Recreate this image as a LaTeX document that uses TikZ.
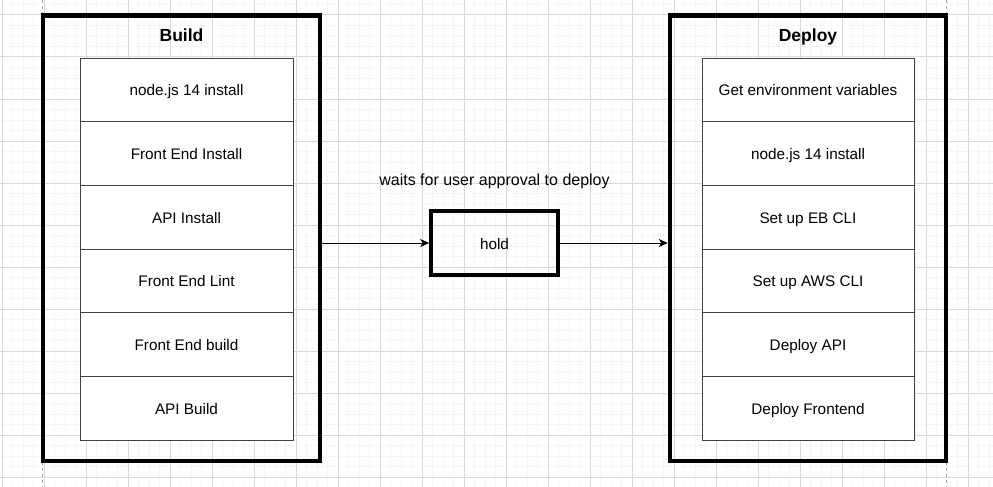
\documentclass[tikz,border=0pt]{standalone}
\usepackage{fontspec}
\setmainfont{Liberation Sans}
\usetikzlibrary{positioning}
\usetikzlibrary{arrows.meta}

\begin{document}
\begin{tikzpicture}[x=1pt,y=-1pt,
  stage/.style={draw,line width=4.5pt,minimum width=277pt,minimum height=445.3pt,inner sep=0pt},
  job/.style={draw=black!75,fill=white,line width=0.9pt,minimum width=213pt,minimum height=\hjob pt,inner sep=0pt,outer sep=0pt,text height=12pt,text depth=0pt,font=\fontsize{15.3}{17}\selectfont},
  holdbox/.style={draw,line width=3.5pt,minimum width=127pt,minimum height=64pt,inner sep=0pt,text height=12pt,text depth=0pt,font=\fontsize{15.3}{17}\selectfont},
  titre/.style={text height=12.5pt,text depth=3.5pt,font=\fontsize{17.5}{20}\selectfont\bfseries},
  fleche/.style={-{Stealth[length=9pt,width=8pt,inset=2.5pt]},line width=0.9pt}]
\def\xmax{993}
\def\ymax{487}
\def\hjob{63.67}

% Fond et grille
\fill[white] (0,0) rectangle (\xmax,\ymax);
\useasboundingbox (0,0) rectangle (\xmax,\ymax);
\foreach \x in {2,12.5,...,993}{
	\draw[line width=1pt,black!4] (\x,0) -- (\x,\ymax);
}
\foreach \y in {4.5,15,...,487}{
	\draw[line width=1pt,black!4] (0,\y) -- (\xmax,\y);
}
\foreach \x in {2,44,...,993}{
	\draw[line width=1pt,black!15] (\x,0) -- (\x,\ymax);
}
\foreach \y in {15,57,...,487}{
	\draw[line width=1pt,black!15] (0,\y) -- (\xmax,\y);
}
\draw[dashed,black!35,line width=0.8pt] (42,0) -- (42,\ymax);
\draw[dashed,black!35,line width=0.8pt] (946,0) -- (946,\ymax);

% Build
\node[stage] (build) at (181.5,238.4) {};
\node[titre] (tbuild) at (181.5,37) {Build};
\foreach \t [count=\i] in {node.js 14 install,Front End Install,API Install,Front End Lint,Front End build,API Build}{
	\node[job] (b\i) at (186.5,58+\hjob*\i-\hjob/2) {\t};
}

% Deploy
\node[stage,minimum width=276pt] (deploy) at (808,238.4) {};
\node[titre] (tdeploy) at (808,37) {Deploy};
\foreach \t [count=\i] in {Get environment variables,node.js 14 install,Set up EB CLI,Set up AWS CLI,Deploy API,Deploy Frontend}{
	\node[job,minimum width=212pt] (d\i) at (808,58+\hjob*\i-\hjob/2) {\t};
}

% Attente
\node[holdbox] (hold) at (494.5,243) {hold};
\node[font=\fontsize{16}{18}\selectfont,above=17pt of hold] (note) {waits for user approval to deploy};
\draw[fleche] (build.east |- hold) -- (hold.west);
\draw[fleche] (hold.east) -- (deploy.west |- hold);
\end{tikzpicture}
\end{document}
